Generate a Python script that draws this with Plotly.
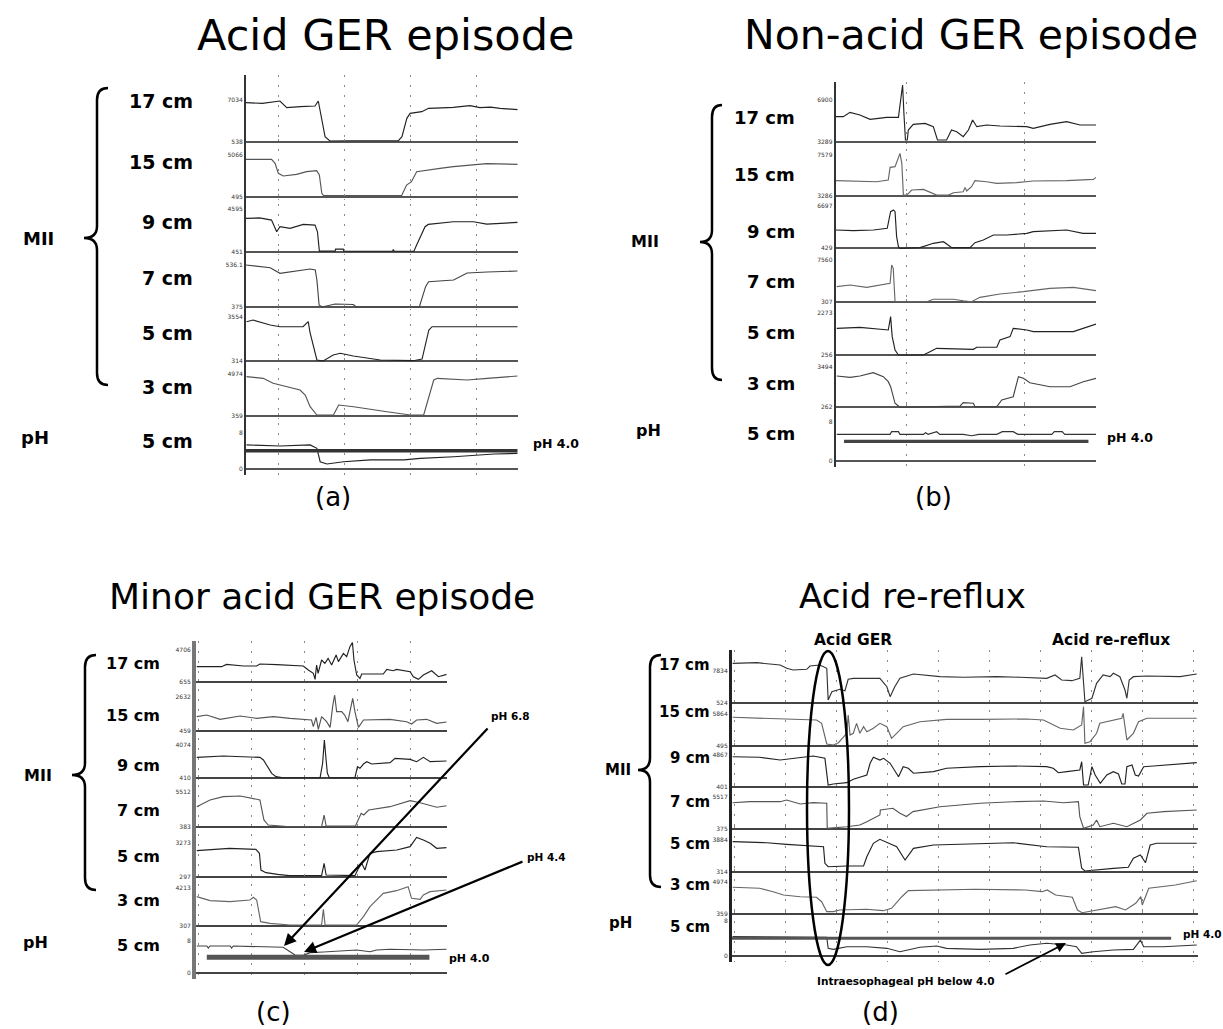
import plotly.graph_objects as go

W, H = 1223, 1029
FONT = "DejaVu Sans"

# ================= values =================
# t = time (% of each panel's recording window)
# z = impedance (% of the channel's scale: 0 = lower tick, 100 = upper tick)
# v = pH units
CHANNELS = ["17 cm", "15 cm", "9 cm", "7 cm", "5 cm", "3 cm", "5 cm"]
PH_THRESHOLD = 4.0

# ---- (a) Acid GER episode ----
a17_t = [0, 6, 12.5, 15, 20, 25.4, 26.6, 27.9, 29.1, 30.9, 37.7, 56.1, 57.4, 59.2, 60.4, 64.7, 67.2, 72, 76.3, 82.4, 86.1, 90, 93.5, 100]
a17_z = [93.6, 92, 97.6, 81.6, 84, 85.6, 97.6, 48, 12, 1.6, 2.4, 2.4, 12, 56, 68, 72, 80, 81, 82.4, 86.4, 81.6, 83, 80, 76.8]
a15_t = [0, 9.4, 10.7, 11.9, 13.7, 18.6, 22.3, 26, 27, 27.9, 28.5, 57.3, 59.1, 60.9, 62.8, 66.5, 71.4, 76.3, 83.7, 88.6, 100]
a15_z = [89.6, 89.6, 80, 56, 49.6, 53.6, 60, 62.4, 52, 8, 3, 3, 28, 36, 60, 64, 68, 72, 76, 79.2, 77.6]
a9_t = [0, 5, 9.4, 11.3, 12.5, 16.2, 21.1, 25.4, 26.3, 27, 32.8, 33, 35.8, 36, 54, 54.2, 54.6, 61.8, 62.8, 64, 65.9, 67.1, 71.4, 76.3, 83.7, 88.6, 100]
a9_z = [76.9, 78, 73, 46, 57.7, 53.8, 63, 61.5, 46, 1.5, 1.5, 6, 6, 1, 1, 5, 1, 1, 15.4, 30.8, 57.7, 63, 65.4, 69.2, 69.2, 63.8, 67.7]
a7_t = [0, 8.9, 12.5, 23.6, 25.5, 26.1, 26.9, 28, 32.8, 39.5, 40.6, 63.8, 66.1, 67.2, 76.4, 81.4, 88.8, 100]
a7_z = [100, 93.6, 80.4, 90.5, 88.2, 64.5, 5.4, 0.7, 7.8, 6.6, 0.7, 0.7, 48.7, 60.5, 64.5, 81, 83.5, 85.8]
a5_t = [0.2, 2.6, 8.9, 12.5, 21, 22.9, 23.6, 26.1, 28.4, 32.1, 34.7, 39.5, 49.4, 61.6, 64.8, 67.3, 68.5, 76.4, 88.8, 100]
a5_z = [88.7, 92.5, 81.3, 77.4, 77.4, 88.7, 63.2, 2.3, 0, 13.5, 17.4, 11.3, 2.3, 0.7, 4.5, 70, 77.4, 77.4, 79, 77.4]
a3_t = [0.2, 6.3, 10, 15, 19.9, 21.8, 23.6, 26.1, 32.2, 34.1, 39.6, 51.9, 60.5, 65.4, 69.1, 70.4, 81.4, 88.8, 100]
a3_z = [93.6, 89.7, 77.9, 69.8, 61.9, 50, 22.1, 2.4, 2.4, 26.2, 22.1, 10.2, 2.4, 2.4, 85.7, 89.7, 85.7, 89.7, 95.2]
a_ph_t = [0.2, 12.5, 23.6, 26.1, 27.3, 29.8, 35.9, 45.8, 58.1, 64.2, 76.5, 91.3, 100]
a_ph_v = [5.3, 5.07, 5.3, 4.56, 1.6, 1.1, 1.6, 2.0, 2.0, 2.35, 2.7, 3.3, 3.45]
a_ph4_span = [0, 100]
a_scale_lo = ["538", "495", "451", "375", "314", "359", "0"]
a_scale_hi = ["7034", "5066", "4595", "536.1", "3554", "4974", "8"]

# ---- (b) Non-acid GER episode ----
b17_t = [0, 2.9, 5.5, 9.3, 13.2, 19.6, 24.1, 25, 25.7, 26.2, 26.8, 27.5, 27.9, 29.8, 34.3, 37.5, 39.1, 42.6, 44.5, 46.5, 49, 51, 52.6, 54.2, 58, 63.1, 73.4, 75.9, 82.3, 88.7, 93.9, 100]
b17_z = [60, 60, 70.4, 64, 53.6, 58.4, 58.4, 108, 136, 68, 4, 4, 28, 41.6, 44, 36, 4, 4, 28, 24, 12, 28, 52, 36, 40, 37.6, 36, 32, 41.6, 48, 40, 40]
b15_t = [0, 15.7, 20.2, 20.9, 22.8, 24.1, 24.7, 25.4, 26, 27.3, 29.2, 33.7, 36.9, 38.8, 43.3, 45.2, 49, 49.7, 50.3, 52.2, 53.5, 58, 61.8, 69.5, 75.9, 88.7, 99, 100]
b15_z = [36.9, 34.4, 38.5, 69.7, 71.3, 91.8, 104, 79.5, 1.6, 1.6, 13.9, 15.6, 5.7, 1.6, 1.6, 7.4, 9.8, 20.5, 11.5, 22.1, 36.9, 34.4, 30.3, 32, 36.1, 36.9, 40.2, 45]
b9_t = [0, 6.8, 14.5, 19.8, 21.1, 22.2, 22.8, 23.4, 24.1, 24.7, 32.4, 37.5, 41.4, 44.6, 51.6, 53.5, 56.7, 60.6, 65.7, 73.4, 75.9, 88.7, 95, 100]
b9_z = [43.3, 41.7, 43.3, 47.2, 86.6, 90.6, 86.6, 27.6, 3.9, 0, 1.6, 11.8, 15.7, 1.6, 1.6, 13.4, 19.7, 31.5, 31.5, 35.4, 39.4, 43.3, 35.4, 35.4]
b7_t = [0.4, 5.5, 11.9, 20.9, 21.5, 22.1, 22.8, 35, 37.5, 45.2, 49, 52.2, 55.4, 63.1, 72.1, 82.3, 91.3, 100]
b7_z = [36, 40, 34.5, 44.1, 88, 80, 0, 0, 5.8, 5.8, 2.4, 0, 10.5, 18.5, 24, 32.1, 34.5, 26.4]
b5_t = [0.4, 9.3, 20.2, 21.1, 21.7, 22.8, 24.1, 33.7, 36.2, 38.8, 52.9, 54.2, 61.9, 63.1, 67, 68.2, 73.4, 75.9, 91.3, 95.1, 100]
b5_z = [64, 66.4, 60, 92, 44, 12, 0, 0, 8, 16, 13.6, 18.5, 18.5, 36, 44, 64, 60, 56, 56, 64, 74.3]
b3_t = [0.4, 5.5, 9.3, 14.4, 18.3, 20.2, 21.1, 22.8, 24.7, 36.2, 47.8, 49, 52.9, 53.5, 61.9, 63.8, 68.2, 70.2, 72.1, 74.6, 82.3, 90, 95.1, 100]
b3_z = [77, 73.9, 77, 85.2, 75.4, 63.1, 50.7, 9.9, 0, 1.6, 3.2, 11.3, 9.9, 1.6, 1.6, 18, 26.1, 75.4, 71.4, 60.6, 50.7, 50.7, 63.1, 71.4]
b_ph_t = [0.4, 20.9, 21.5, 24.1, 24.7, 33.7, 34.5, 35.5, 38.8, 40, 49, 52.2, 55, 61.9, 64, 68.2, 70, 83, 84, 87, 88, 100]
b_ph_v = [5.43, 5.43, 5.97, 5.97, 5.43, 5.43, 5.75, 5.43, 5.97, 5.43, 5.43, 5.15, 5.43, 5.43, 5.97, 5.97, 5.43, 5.43, 5.97, 5.97, 5.43, 5.43]
b_ph4_span = [3.2, 97.1]
b_scale_lo = ["3289", "3286", "429", "307", "256", "262", "0"]
b_scale_hi = ["6900", "7579", "6697", "7560", "2273", "3494", "8"]

# ---- (c) Minor acid GER episode ----
c17_t = [0.3, 10.2, 12.2, 18.9, 24.2, 25.5, 32.2, 42.8, 44.8, 46.8, 47.5, 48.1, 48.7, 50.1, 51.4, 52.7, 54.1, 55.9, 56.8, 58.8, 60.1, 61.4, 62.4, 63, 64.1, 65.4, 66.1, 74.7, 76.1, 78.7, 80, 85.4, 86.7, 88.7, 90.7, 94, 96.7, 100]
c17_z = [47.4, 47.4, 54.7, 49.5, 49.5, 55.8, 53.7, 49.5, 36.8, 26.3, 7.4, 52.6, 26.3, 68.4, 57.9, 73.7, 52.6, 84.2, 63.2, 89.5, 78.9, 110.5, 123.2, 68.4, 21.1, 10.5, 24.2, 24.2, 38.9, 34.7, 38.9, 31.6, 15.8, 7.4, 21.1, 34.7, 15.8, 23.2]
c15_t = [0.3, 4.3, 9.6, 17.6, 24.2, 30.9, 37.5, 44.1, 46.1, 46.8, 47.9, 48.8, 50.1, 52.1, 53.5, 54.5, 55.3, 56.1, 58.1, 59.3, 60.6, 62.5, 63.4, 64.8, 66.8, 77.4, 84, 86, 88, 92, 96, 100]
c15_z = [41.6, 46.5, 33.7, 43.6, 36.6, 41.6, 36.6, 33.7, 31.7, 11.9, 39.6, 4, 41.6, 26.7, 9.9, 71.3, 105.9, 56.4, 56.4, 46.5, 26.7, 96, 56.4, 9.9, 31.7, 33.7, 26.7, 19.8, 31.7, 33.7, 21.8, 25.7]
c9_t = [0.3, 10.9, 25.5, 26.9, 30.2, 31.9, 34.8, 49.5, 50.5, 51.2, 51.9, 52.4, 53.2, 63.4, 64.4, 65.4, 66.8, 68.1, 70.1, 77.4, 79.4, 85.4, 88, 90.7, 93.4, 100]
c9_z = [62.2, 66.3, 62.2, 54.1, 13.3, 3.1, 0, 0, 43.9, 115.3, 54.1, 13.3, 0, 0, 33.7, 28.6, 41.8, 49, 41.8, 45.9, 59.2, 56.1, 49, 62.2, 49, 51]
c7_t = [0.3, 5.6, 10.9, 17.6, 24.2, 25.5, 27.1, 28.8, 37.5, 50.1, 51.1, 51.9, 63.6, 64.9, 65.9, 66.9, 68.9, 77.4, 85.4, 89.4, 96, 100]
c7_z = [58.4, 77.3, 86.7, 88.7, 79.3, 77.3, 20.7, 6.5, 1.7, 1.7, 34.8, 3.7, 3.7, 25.5, 39.7, 34.8, 49, 58.4, 75.4, 69.7, 56.7, 61.2]
c5_t = [0.3, 6.6, 13.3, 23.9, 25.3, 25.9, 27.9, 32.6, 37.2, 50.1, 51.1, 51.9, 63.4, 64.8, 66.1, 67.4, 69.4, 72.1, 80.1, 85.4, 88, 90.7, 93.4, 96, 100]
c5_z = [77.2, 81.2, 84.2, 81.2, 69.3, 19.8, 11.9, 6.9, 3, 3, 39.6, 5, 3, 24.8, 39.6, 19.8, 69.3, 74.3, 79.2, 89.1, 116.8, 108.9, 99, 84.2, 86.1]
c3_t = [0.3, 5.6, 13.6, 21.5, 22.9, 24.2, 25.8, 29.5, 37.5, 50.1, 50.8, 51.5, 64.1, 66.8, 69.4, 74.7, 80, 83.3, 84.6, 86, 89.4, 90.7, 93.4, 100]
c3_z = [77.4, 67, 64.3, 68.7, 75.7, 68.7, 12.2, 7.8, 3.5, 3.5, 44.3, 3.5, 3.5, 25.2, 51.3, 86.1, 93, 99.1, 103.5, 73, 70.4, 81.7, 90.4, 94.8]
c_ph_t = [0.3, 4.3, 4.9, 5.6, 13.6, 14.2, 14.9, 33.5, 34.8, 37.5, 39.5, 42.8, 45.5, 50.8, 64.1, 69.4, 72.1, 77.4, 90.7, 100]
c_ph_v = [6.83, 6.83, 6.3, 6.83, 6.83, 6.3, 6.83, 6.67, 6.5, 5.4, 4.58, 4.5, 5.17, 5.33, 5.83, 5.4, 5.83, 6.0, 5.83, 6.0]
c_ph4_span = [4.3, 93.1]
c_scale_lo = ["655", "459", "410", "383", "297", "307", "0"]
c_scale_hi = ["4706", "2632", "4074", "5512", "3273", "4213", "8"]

# ---- (d) Acid re-reflux ----
d17_t = [0.2, 5.4, 10.4, 11.8, 13.2, 16.1, 16.8, 18.9, 20.4, 20.7, 21.5, 23.2, 24.3, 25, 26.1, 31.8, 33.3, 34, 35, 36.1, 39, 44.7, 49.7, 56.9, 61.9, 67.6, 69.4, 70.8, 73, 74.7, 75.1, 75.5, 75.8, 77.3, 78.3, 79.7, 81.2, 81.9, 83.3, 84.4, 84.8, 85.3, 86.2, 89.1, 96.2, 99.8]
d17_z = [123.1, 125, 117.8, 107.5, 102.2, 104.4, 114.7, 117.8, 107.5, 8.4, 34.4, 41.9, 37.5, 73.1, 76.2, 76.2, 50, 18.8, 50, 76.2, 89.7, 81.3, 79.4, 81.3, 79.4, 76.2, 86.6, 70.9, 68.8, 76.2, 143.8, 76.2, 3.1, 13.8, 60.6, 86.6, 81.3, 91.9, 81.3, 39.7, 13.8, 70.9, 81.3, 83.4, 81.3, 89.7]
d15_t = [0.2, 8.9, 14.7, 18.2, 19.3, 20, 20.4, 21.8, 22.9, 24.7, 25, 25.4, 26.1, 26.8, 27.5, 28.3, 29, 30.4, 31.8, 33.3, 34.3, 35.4, 36.8, 40.4, 46.1, 53.3, 63.3, 66.9, 70.5, 73.3, 75.1, 75.5, 75.8, 76.9, 78.3, 79, 81.9, 83.7, 84, 84.8, 86.2, 87.3, 89.1, 99.8]
d15_z = [89.7, 86.6, 83.4, 81.3, 70.9, 34.4, 6.3, 3.1, 10.3, 39.7, 96.9, 34.4, 39.7, 70.9, 39.7, 60.3, 44.7, 55.3, 70.9, 60.3, 24.1, 39.7, 60.3, 75.9, 83.4, 83.4, 84.4, 81.3, 55.3, 50, 65.6, 122.9, 8.4, 13.4, 39.7, 70.9, 81.3, 86.6, 102.2, 18.8, 39.7, 75.9, 86.6, 86.6]
d9_t = [0.2, 6, 10.4, 11.8, 14.7, 17.5, 20, 20.4, 20.7, 21.8, 24.7, 26.1, 29, 29.7, 30.4, 31.8, 32.6, 34, 35.1, 35.8, 36.8, 37.9, 39, 43.3, 46.1, 53.3, 60.4, 67.6, 69, 70.1, 71.9, 74.7, 75.1, 75.5, 76.5, 77.3, 78, 79.1, 80.5, 81.9, 83, 83.7, 84.4, 84.8, 85.9, 86.6, 87.3, 88.4, 90.5, 96.2, 99.8]
d9_z = [95.6, 93.8, 85.3, 87.5, 93.8, 97.8, 90.6, 33.1, 7.2, 10.3, 14.4, 25, 38.4, 75, 93.8, 85.3, 90.6, 75, 48.8, 33.1, 64.4, 59.4, 43.8, 48.8, 59.4, 64.4, 66.6, 64.4, 59.4, 45.6, 48.8, 54.1, 80, 7.2, 7.2, 64.4, 38.4, 12.5, 38.4, 48.8, 41.6, 10.3, 10.3, 64.4, 69.7, 38.4, 35.3, 64.4, 66.6, 72.8, 76.9]
d7_t = [0.2, 3.9, 10.4, 11.8, 14.7, 17.5, 20.4, 20.5, 24.7, 27.5, 29, 31.8, 31.9, 34.6, 36.1, 37.5, 38.9, 44.7, 53.3, 60.4, 66.9, 71.2, 74.4, 74.7, 75.5, 77.6, 78.3, 79, 81.9, 84.8, 87.7, 89.1, 92.7, 99.8]
d7_z = [82.2, 85.3, 85.3, 90.6, 78.1, 82.2, 80.3, 2.2, 7.2, 12.5, 22.8, 43.8, 59.4, 64.7, 49.1, 38.8, 54.4, 69.7, 80.3, 85.3, 87.5, 82.2, 85.3, 38.4, 2.2, 12.5, 28.1, 7.2, 17.8, 7.2, 28.1, 49.1, 54.1, 59.4]
d5_t = [0.2, 7.5, 11.8, 17.5, 19.7, 20, 20.7, 24.7, 28.3, 29, 30.4, 31.8, 35.4, 37.2, 39, 43.3, 53.3, 60.4, 67.6, 74.4, 75.1, 75.8, 81.9, 85.1, 86.2, 87.7, 88.8, 89.8, 91.2, 99.8]
d5_z = [93.8, 90.6, 85.6, 80.3, 78.1, 26.3, 15.6, 17.8, 17.8, 46.9, 88.8, 101.3, 78.1, 36.6, 73.1, 83.4, 88.8, 90.6, 78.1, 76.3, 10.6, 2.2, 10.6, 13.8, 41.9, 52.2, 28.1, 83.4, 88.8, 88.8]
d3_t = [0.2, 6, 8.9, 11.1, 14.7, 18.2, 19.3, 20.4, 21.8, 23.2, 28.9, 32.5, 34.3, 36.5, 37.9, 45.1, 52.3, 63, 66.6, 67.7, 69.5, 73.1, 74.2, 75.2, 79.5, 82.4, 84.5, 86.7, 87.8, 88.1, 89.5, 95.2, 99.8]
d3_z = [82.5, 79.4, 68.8, 58.4, 53.1, 51.3, 37.5, 6.3, 6.3, 11.6, 13.8, 9.4, 16.9, 53.1, 71.9, 74.1, 76.3, 74.1, 68.8, 74.1, 58.4, 51.3, 11.6, 3.1, 13.8, 21.9, 11.6, 32.5, 53.1, 27.2, 79.4, 89.7, 103.1]
d_ph_t = [0.2, 20.4, 20.7, 21.8, 24.7, 29, 33.3, 36.1, 40.4, 44, 46.1, 53.3, 60.4, 64, 67.6, 71.9, 74, 75.1, 77.6, 81.9, 86.2, 87.7, 88.4, 92.6, 99.8]
d_ph_v = [4.37, 4.23, 1.7, 1.47, 2.07, 2.07, 1.7, 0.92, 1.93, 2.23, 1.7, 1.47, 1.7, 2.46, 2.85, 2.46, 2.07, 0.55, 0.92, 1.31, 1.47, 3.6, 2.07, 2.07, 2.46]
d_ph4_span = [0, 94.3]
d_scale_lo = ["524", "495", "401", "375", "314", "359", "0"]
d_scale_hi = ["7834", "5864", "4867", "5517", "3884", "4974", "8"]

SERIES = {
    "a": [(a17_t, a17_z), (a15_t, a15_z), (a9_t, a9_z), (a7_t, a7_z), (a5_t, a5_z), (a3_t, a3_z), (a_ph_t, a_ph_v)],
    "b": [(b17_t, b17_z), (b15_t, b15_z), (b9_t, b9_z), (b7_t, b7_z), (b5_t, b5_z), (b3_t, b3_z), (b_ph_t, b_ph_v)],
    "c": [(c17_t, c17_z), (c15_t, c15_z), (c9_t, c9_z), (c7_t, c7_z), (c5_t, c5_z), (c3_t, c3_z), (c_ph_t, c_ph_v)],
    "d": [(d17_t, d17_z), (d15_t, d15_z), (d9_t, d9_z), (d7_t, d7_z), (d5_t, d5_z), (d3_t, d3_z), (d_ph_t, d_ph_v)],
}
PH4_SPAN = {"a": a_ph4_span, "b": b_ph4_span, "c": c_ph4_span, "d": d_ph4_span}
SCALE_LO = {"a": a_scale_lo, "b": b_scale_lo, "c": c_scale_lo, "d": d_scale_lo}
SCALE_HI = {"a": a_scale_hi, "b": b_scale_hi, "c": c_scale_hi, "d": d_scale_hi}
TITLES = {"a": "Acid GER episode", "b": "Non-acid GER episode",
          "c": "Minor acid GER episode", "d": "Acid re-reflux"}

# ================= geometry / style (pixels) =================
# base: baseline pixel row of each channel; unit: px per 100 % (MII) or px per pH unit x100 (pH row)
GEOM = {
    "a": dict(x0=246, x1=517.7, top=75,
              base=[141.7, 196.7, 251.7, 307.3, 361, 416, 469],
              unit=[41.7, 41.7, 43.3, 42.3, 44.3, 42, 4.54 * 100],
              tick0=12.1, dtick=24.3, axw=2, axc="#333", zw=2, zc="#555",
              col=["#222", "#555", "#222", "#444", "#222", "#555", "#222"],
              ph4w=3.5, ph4c="#333",
              lab_x=195, lab_y=[101, 162, 222, 278, 333, 387, 441], lab_s=19,
              mii=(38, 238, 18), ph=(35, 437, 18), letter=(333, 497, 26),
              title=(385, 35, 43), ph4txt=(531, 443, 12.5),
              brace=(108, 97, 84, 88, 238, 385)),
    "b": dict(x0=835.7, x1=1096, top=82,
              base=[141.7, 195.7, 248.3, 301.7, 355, 407.3, 461],
              unit=[41.7, 40.7, 42.3, 41.7, 41.7, 40.6, 4.91 * 100],
              tick0=27.3, dtick=45.1, axw=2, axc="#333", zw=1.8, zc="#555",
              col=["#222", "#666", "#222", "#666", "#222", "#444", "#333"],
              ph4w=3.2, ph4c="#444",
              lab_x=797, lab_y=[118, 175, 231, 282, 332, 383, 433], lab_s=18,
              mii=(645, 242, 16), ph=(648, 430, 16), letter=(933, 497, 26),
              title=(971, 35, 41), ph4txt=(1105, 438, 12.5),
              brace=(722, 712, 700, 105, 242, 380)),
    "c": dict(x0=196, x1=446.7, top=641,
              base=[681.7, 730.7, 777.7, 827.3, 876.7, 926.3, 973.3],
              unit=[31.7, 33.7, 32.7, 35.3, 33.7, 38.3, 4.0 * 100],
              tick0=22.2, dtick=21.1, axw=4, axc="#777", zw=1.8, zc="#444",
              col=["#222", "#555", "#222", "#555", "#222", "#666", "#444"],
              ph4w=5, ph4c="#555",
              lab_x=162, lab_y=[663, 715, 765, 810, 856, 900, 945], lab_s=16,
              mii=(38, 775, 16), ph=(35, 942, 16), letter=(273, 1012, 26),
              title=(322, 596, 36), ph4txt=(447, 958, 11),
              brace=(96, 85, 72, 655, 775, 890)),
    "d": dict(x0=731.7, x1=1197.7, top=650,
              base=[702.7, 746, 787.3, 829, 871.7, 913.7, 955.7],
              unit=[32, 32, 32, 32, 32, 32, 4.35 * 100],
              tick0=0.7, dtick=10.93, axw=2.5, axc="#222", zw=1.6, zc="#444",
              col=["#333", "#666", "#222", "#555", "#222", "#666", "#333"],
              ph4w=3, ph4c="#555",
              lab_x=712, lab_y=[665, 711.7, 758, 801.7, 844, 885, 927], lab_s=15,
              mii=(618, 770, 15), ph=(620, 923, 15), letter=(880, 1012, 26),
              title=(912, 596, 34), ph4txt=(1181, 934, 10.5),
              brace=(661, 650, 638, 655, 770, 887)),
}


def px(x):
    return x / W


def py(y):
    return 1 - y / H


def label(x, y, text, size, xanchor="center", bold=False):
    return dict(x=px(x), y=py(y), xref="paper", yref="paper",
                text=f"<b>{text}</b>" if bold else text, showarrow=False,
                xanchor=xanchor, yanchor="middle", font=dict(size=size, family=FONT, color="black"))


fig = go.Figure()
layout = dict(width=W, height=H, margin=dict(l=0, r=0, t=0, b=0),
              paper_bgcolor="white", plot_bgcolor="rgba(0,0,0,0)", showlegend=False,
              font=dict(family=FONT, color="black"))
annotations = []
shapes = []

n = 0
for key in ["a", "b", "c", "d"]:
    g = GEOM[key]
    for i in range(7):
        n += 1
        is_ph = (i == 6)
        unit = g["unit"][i] / 100.0          # px per data unit
        base = g["base"][i]
        dom_top = g["top"] if i == 0 else g["base"][i - 1] - 3
        pad_bottom = 6 if is_ph else 3
        y_lo = -pad_bottom / unit
        y_hi = (base - dom_top) / unit
        t, v = SERIES[key][i]
        xa, ya = f"x{n}", f"y{n}"
        fig.add_trace(go.Scatter(x=t, y=v, mode="lines", xaxis=xa, yaxis=ya,
                                 line=dict(color=g["col"][i], width=1.15),
                                 hoverinfo="skip"))
        if is_ph:
            span = PH4_SPAN[key]
            fig.add_trace(go.Scatter(x=span, y=[PH_THRESHOLD, PH_THRESHOLD], mode="lines",
                                     xaxis=xa, yaxis=ya,
                                     line=dict(color=g["ph4c"], width=g["ph4w"]),
                                     hoverinfo="skip"))
        layout[f"xaxis{n}"] = dict(domain=[px(g["x0"]), px(g["x1"])], range=[0, 100],
                                   anchor=ya, showgrid=True, gridcolor="#8a8a8a",
                                   griddash="2px,8px", gridwidth=1, tickmode="linear",
                                   tick0=g["tick0"], dtick=g["dtick"], showticklabels=False,
                                   ticks="", zeroline=False, showline=False, fixedrange=True)
        layout[f"yaxis{n}"] = dict(domain=[py(base + pad_bottom), py(dom_top)],
                                   range=[y_lo, y_hi], anchor=xa, showgrid=False,
                                   zeroline=True, zerolinecolor=g["zc"], zerolinewidth=g["zw"],
                                   showline=True, linecolor=g["axc"], linewidth=g["axw"],
                                   tickmode="array",
                                   tickvals=[0, 8 if is_ph else 100],
                                   ticktext=[SCALE_LO[key][i], SCALE_HI[key][i]],
                                   tickfont=dict(size=6, color="#333", family=FONT),
                                   ticks="", fixedrange=True)
        annotations.append(label(g["lab_x"], g["lab_y"][i], CHANNELS[i], g["lab_s"],
                                 xanchor="right", bold=True))
    tx, ty, ts = g["title"]
    annotations.append(label(tx, ty, TITLES[key], ts))
    lx, ly, ls = g["letter"]
    annotations.append(label(lx, ly, f"({key})", ls))
    mx, my, ms = g["mii"]
    annotations.append(label(mx, my, "MII", ms, bold=True))
    hx, hy, hs = g["ph"]
    annotations.append(label(hx, hy, "pH", hs, bold=True))
    ptx, pty, pts = g["ph4txt"]
    annotations.append(label(ptx, pty, f"pH {PH_THRESHOLD:.1f}", pts, xanchor="left", bold=True))
    # curly brace
    xe, xs, xt, yt, ym, yb = g["brace"]
    r = 12
    segs = [("M", xe, yt), ("Q", xs, yt, xs, yt + r), ("L", xs, ym - r),
            ("Q", xs, ym, xt, ym), ("Q", xs, ym, xs, ym + r), ("L", xs, yb - r),
            ("Q", xs, yb, xe, yb)]
    path = ""
    for seg in segs:
        coords = seg[1:]
        pairs = [f"{px(coords[k]):.5f},{py(coords[k + 1]):.5f}" for k in range(0, len(coords), 2)]
        path += f"{seg[0]} " + " ".join(pairs) + " "
    shapes.append(dict(type="path", path=path.strip(), xref="paper", yref="paper",
                       line=dict(color="black", width=2.5)))


def arrow(head, tail, width=2.2):
    return dict(x=px(head[0]), y=py(head[1]), xref="paper", yref="paper", text="",
                showarrow=True, ax=tail[0] - head[0], ay=tail[1] - head[1],
                arrowhead=2, arrowsize=1.1, arrowwidth=width, arrowcolor="black",
                standoff=0, startstandoff=0)


annotations.append(arrow((284, 946), (489, 727)))
annotations.append(arrow((304, 952), (524, 861)))
annotations.append(label(510, 716, "pH 6.8", 10.5, bold=True))
annotations.append(label(546, 857, "pH 4.4", 10.5, bold=True))
annotations.append(arrow((1066, 943), (1004, 975), width=1.8))
annotations.append(label(906, 981, "Intraesophageal pH below 4.0", 10.5, bold=True))
annotations.append(label(853, 640, "Acid GER", 15.5, bold=True))
annotations.append(label(1111, 640, "Acid re-reflux", 15.5, bold=True))
shapes.append(dict(type="circle", xref="paper", yref="paper",
                   x0=px(807), x1=px(849), y0=py(965), y1=py(651),
                   line=dict(color="black", width=2.5)))

layout["annotations"] = annotations
layout["shapes"] = shapes
fig.update_layout(**layout)

fig.write_html("out.html", include_plotlyjs=True, config={"displayModeBar": False},
               post_script="document.body.style.margin='0';document.body.style.overflow='hidden';")
